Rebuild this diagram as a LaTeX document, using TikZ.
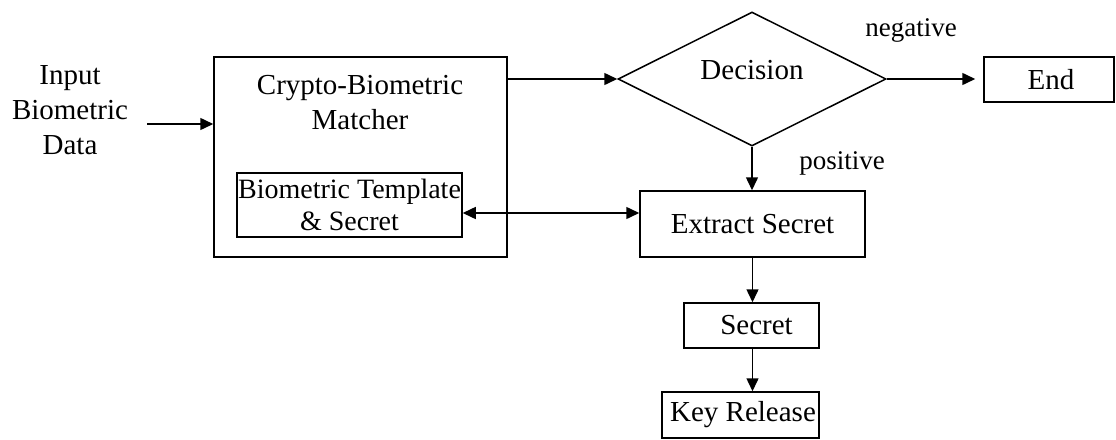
\documentclass[tikz,border=0pt]{standalone}
\usepackage{fontspec}
\setmainfont{Liberation Serif}
\usetikzlibrary{shapes.geometric,arrows.meta}
\tikzset{
  every picture/.style={x=1pt,y=-1pt},
  main/.style={font=\fontsize{29}{35}\selectfont, align=center, inner sep=0pt},
  lbl/.style={font=\fontsize{27}{32}\selectfont, inner sep=0pt},
  boxn/.style={draw, line width=1.5pt, inner sep=0pt, align=center, font=\fontsize{29}{35}\selectfont},
  conn/.style={line width=1.5pt, -{Triangle[length=13pt,width=12pt]}},
}
\begin{document}
\begin{tikzpicture}
\useasboundingbox (0,0) rectangle (1116,439);
% left input text
\node[main] (input) at (70,110) {Input\\Biometric\\Data};
\coordinate (inA) at (147,124);
% crypto matcher box
\node[boxn, minimum width=293pt, minimum height=200pt] (crypto) at (360.5,157) {};
\node[main] (cryptotext) at (360,103) {Crypto-Biometric\\Matcher};
\node[boxn, minimum width=225pt, minimum height=64pt, font=\fontsize{28}{32}\selectfont] (tmpl) at (349.5,205) {Biometric Template\\\& Secret};
% decision
\node[draw, line width=1.5pt, diamond, shape aspect=2, minimum width=268pt, minimum height=134pt, inner sep=0pt] (decision) at (752,79) {};
\node[main] (dectext) at (752,70) {Decision};
% end
\node[boxn, minimum width=130pt, minimum height=45pt] (endbox) at (1049,79.5) {\hspace*{4pt}End};
\node[lbl] (neg) at (911,30) {negative};
\node[lbl] (pos) at (842,163) {positive};
% extract
\node[boxn, minimum width=225pt, minimum height=66pt] (extract) at (752.5,224) {Extract Secret};
\node[boxn, minimum width=135pt, minimum height=45pt] (secret) at (751.5,325.5) {\hspace*{10pt}Secret};
\node[boxn, minimum width=157pt, minimum height=46pt] (keyrel) at (740.5,415) {\hspace*{5pt}Key Release};
% connectors
\draw[conn] (inA) -- (inA -| crypto.west);
\draw[conn] (decision.west -| crypto.east) -- (decision.west);
\draw[conn, shorten >=8pt] (decision.east) -- (endbox.west |- decision.east);
\draw[conn] (decision.south) -- (decision.south |- extract.north);
\draw[line width=1.5pt, {Triangle[length=13pt,width=12pt]}-{Triangle[length=13pt,width=12pt]}] ([yshift=-8pt]tmpl.east) -- ([yshift=-8pt]tmpl.east -| extract.west);
\draw[conn] (extract.south) -- (extract.south |- secret.north);
\draw[conn] (secret.south -| extract.south) -- (keyrel.north -| extract.south);
\end{tikzpicture}
\end{document}
